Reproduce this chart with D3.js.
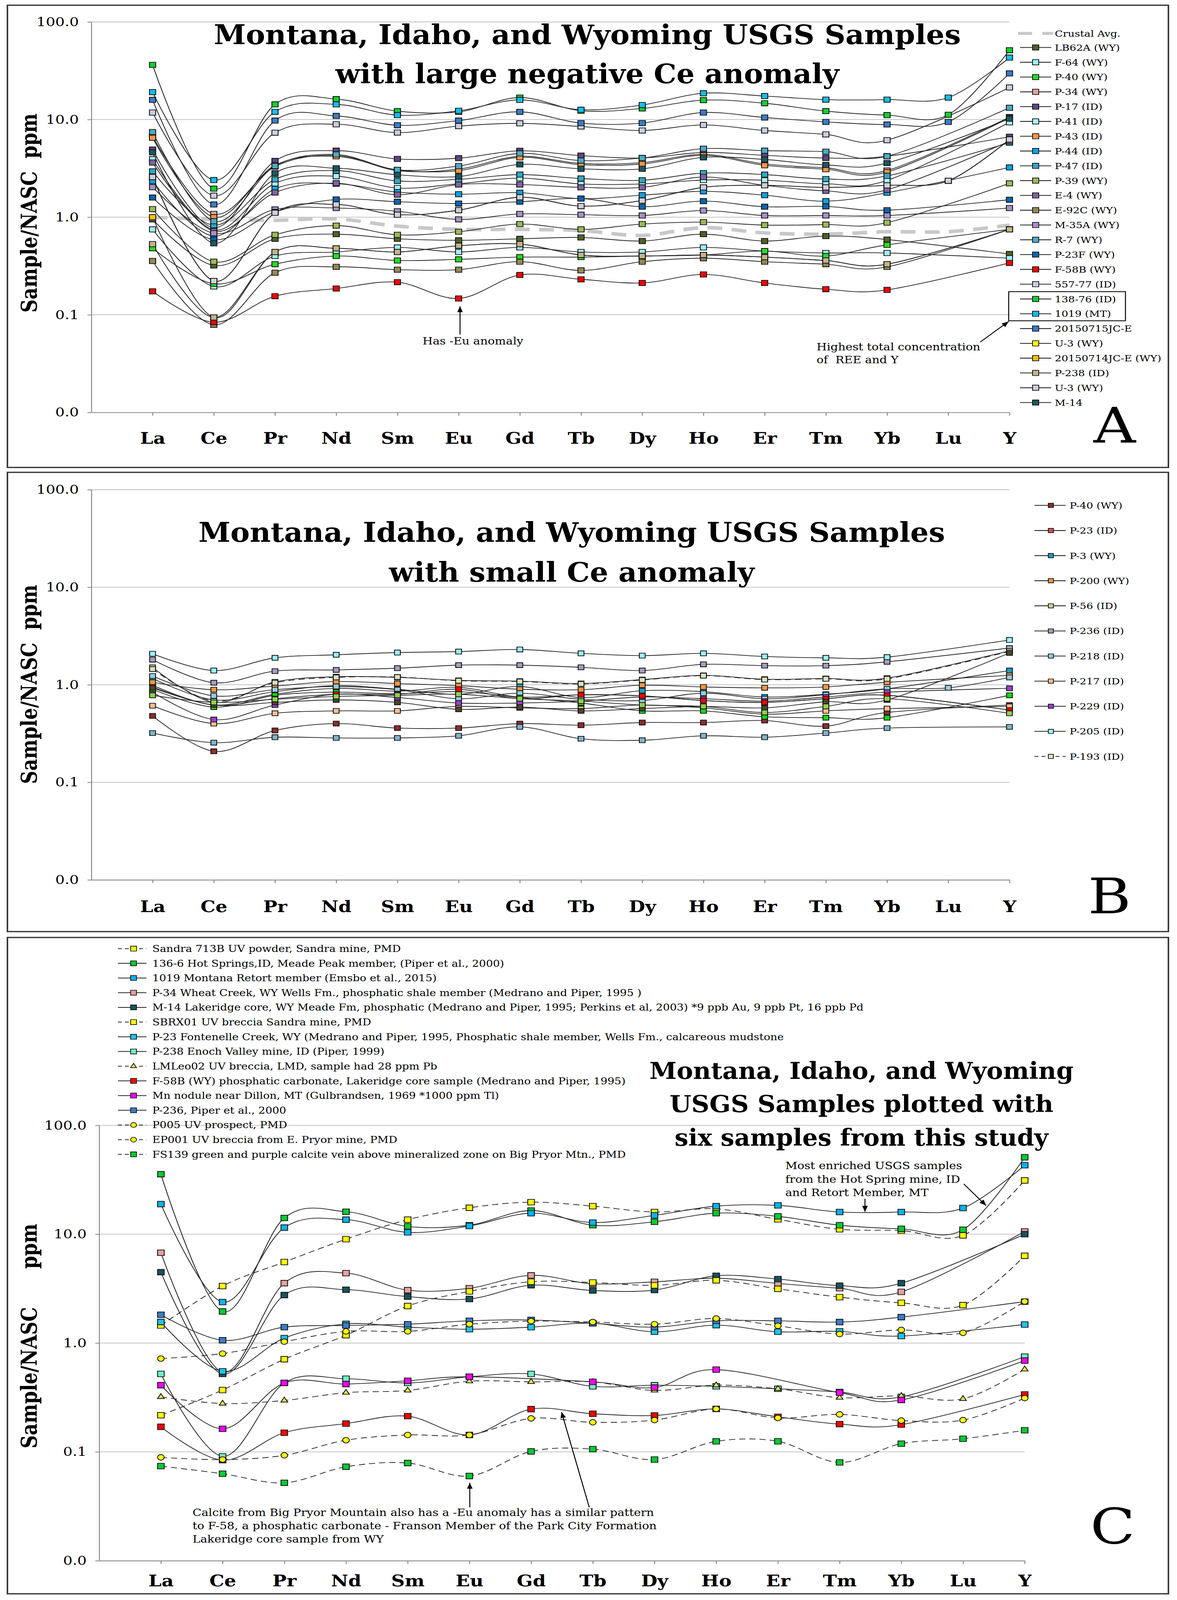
<!DOCTYPE html>
<html>
<head>
<meta charset="utf-8">
<script src="https://cdn.jsdelivr.net/npm/d3@7"></script>
<style>
  html, body { margin: 0; padding: 0; background: #fff; overflow: hidden; }
  svg { display: block; }
  text { font-family: "DejaVu Serif", serif; }
</style>
</head>
<body>
<svg id="fig"></svg>
<script>
const categories = ["La", "Ce", "Pr", "Nd", "Sm", "Eu", "Gd", "Tb", "Dy", "Ho", "Er", "Tm", "Yb", "Lu", "Y"];
const yTickValues = [100, 10, 1, 0.1, 0.01];
const yTickLabels = ["100.0", "10.0", "1.0", "0.1", "0.0"];

// ---- panel A
const crustalAvg = [1.0, 0.95, 0.93, 0.96, 0.81, 0.75, 0.75, 0.73, 0.65, 0.78, 0.69, 0.67, 0.71, 0.71, 0.83];
const aNames = ["LB62A (WY)", "F-64 (WY)", "P-40 (WY)", "P-34 (WY)", "P-17 (ID)", "P-41 (ID)", "P-43 (ID)",
  "P-44 (ID)", "P-47 (ID)", "P-39 (WY)", "E-4 (WY)", "E-92C (WY)", "M-35A (WY)", "R-7 (WY)", "P-23F (WY)",
  "F-58B (WY)", "557-77 (ID)", "138-76 (ID)", "1019 (MT)", "20150715JC-E", "U-3 (WY)", "20150714JC-E (WY)",
  "P-238 (ID)", "U-3 (WY)", "M-14"];
const aValues = [
  [0.95, 0.32, 0.60, 0.67, 0.60, 0.58, 0.60, 0.62, 0.57, 0.67, 0.57, 0.64, 0.59, null, 0.42],
  [0.75, 0.195, 0.40, 0.44, 0.49, 0.44, 0.49, 0.44, 0.44, 0.49, 0.45, 0.43, 0.43, null, 0.38],
  [0.48, 0.208, 0.33, 0.40, 0.36, 0.37, 0.39, 0.39, 0.40, 0.41, 0.45, 0.40, 0.52, null, 0.75],
  [6.72, 1.08, 3.3, 4.3, 3.0, 3.11, 4.2, 3.55, 3.62, 4.4, 3.51, 3.2, 3.01, null, 10.6],
  [4.93, 0.78, 3.77, 4.80, 3.95, 4.02, 4.78, 4.27, 4.04, 4.6, 4.3, 4.04, 4.21, null, 6.66],
  [3.93, 0.74, 2.22, 2.63, 1.99, 2.2, 2.51, 2.19, 2.19, 2.4, 2.39, 2.2, 2.38, null, 9.37],
  [6.5, 1.0, 3.4, 4.2, 3.05, 3.0, 4.1, 3.45, 3.5, 4.3, 3.4, 3.1, 2.9, null, 10.4],
  [2.34, 0.64, 1.95, 2.2, 1.81, 1.72, 1.78, 1.55, 1.68, 1.84, 1.68, 1.46, 1.78, null, 3.23],
  [2.95, 0.83, 2.44, 3.0, 2.35, 2.44, 2.73, 2.49, 2.39, 2.83, 2.73, 2.46, 2.65, null, 5.79],
  [1.21, 0.35, 0.66, 0.82, 0.66, 0.71, 0.85, 0.75, 0.85, 0.89, 0.83, 0.84, 0.88, null, 2.22],
  [3.63, 0.72, 1.79, 2.23, 1.70, 2.16, 2.16, 2.02, 2.02, 2.58, 2.12, 1.86, 1.91, null, 6.0],
  [0.356, 0.079, 0.27, 0.31, 0.29, 0.29, 0.35, 0.285, 0.35, 0.38, 0.35, 0.33, 0.31, null, 0.75],
  [2.03, 0.685, 1.20, 1.24, 1.15, 0.95, 1.08, 1.06, 1.04, 1.17, 1.04, 1.04, 1.04, null, 1.24],
  [7.45, 0.91, 3.34, 4.39, 3.06, 3.34, 4.5, 3.8, 4.04, 5.03, 4.8, 4.69, 4.21, null, 13.2],
  [1.59, 0.59, 1.13, 1.52, 1.44, 1.38, 1.44, 1.55, 1.28, 1.46, 1.28, 1.29, 1.18, null, 1.51],
  [0.174, 0.084, 0.155, 0.186, 0.216, 0.147, 0.256, 0.231, 0.212, 0.259, 0.212, 0.183, 0.18, null, 0.34],
  [11.8, 1.66, 7.33, 8.95, 7.36, 8.57, 9.15, 8.49, 7.73, 8.8, 7.73, 7.05, 6.15, null, 21.3],
  [36.3, 1.96, 14.3, 16.2, 12.2, 12.0, 16.8, 12.3, 13.0, 15.8, 14.7, 12.2, 11.1, 11.2, 51.3],
  [19.1, 2.40, 12.0, 14.3, 11.1, 12.3, 15.9, 12.6, 14.1, 18.6, 17.4, 16.0, 16.0, 16.8, 43.1],
  [15.9, 1.35, 9.76, 10.9, 8.75, 9.76, 12.0, 9.2, 9.2, 11.8, 10.5, 9.46, 8.9, 9.46, 29.7],
  [2.58, 0.222, 1.11, 1.35, 1.06, 1.18, 1.6, 1.30, 1.48, 2.02, 2.12, 2.02, 2.12, 2.36, 6.26],
  [1.0, 0.094, 0.44, 0.48, 0.44, 0.51, 0.53, 0.41, 0.40, 0.41, 0.39, 0.36, 0.33, null, 0.75],
  [0.53, 0.094, 0.44, 0.48, 0.44, 0.51, 0.53, 0.41, 0.40, 0.41, 0.39, 0.36, 0.33, null, 0.75],
  [2.58, 0.222, 1.11, 1.35, 1.06, 1.18, 1.6, 1.30, 1.48, 2.02, 2.12, 2.02, 2.12, 2.36, 6.26],
  [4.62, 0.54, 2.83, 3.17, 2.72, 2.61, 3.47, 3.13, 3.13, 4.1, 3.9, 3.43, 3.59, null, 10.2]
];
const aColors = ["#4f6228", "#9ff3fb", "#22dd22", "#e6a0a0", "#5c4680", "#a8f4fc", "#f79646", "#0aa2e6",
  "#31a8c4", "#9bbb59", "#8064a2", "#948a54", "#a592c8", "#4bacc6", "#0866b0", "#ff0000", "#c8d0e0",
  "#10d030", "#10c0f0", "#3a7cc8", "#ffff00", "#ffc000", "#c4b48c", "#d0d0d8", "#1d5663"];

// ---- panel B (legend only shows the first 11)
const bNames = ["P-40 (WY)", "P-23 (ID)", "P-3 (WY)", "P-200 (WY)", "P-56 (ID)", "P-236 (ID)", "P-218 (ID)",
  "P-217 (ID)", "P-229 (ID)", "P-205 (ID)", "P-193 (ID)"];
const bValues = [
  [0.48, 0.208, 0.34, 0.40, 0.36, 0.36, 0.40, 0.385, 0.41, 0.41, 0.43, 0.377, 0.52, null, 0.62],
  [0.99, 0.62, 0.80, 0.92, 0.86, 0.94, 0.75, 0.79, 0.77, 0.69, 0.66, 0.72, 0.78, null, 0.55],
  [1.16, 0.70, 0.85, 0.98, 0.90, 0.80, 0.96, 0.74, 0.87, 0.85, 0.75, 0.80, 0.91, null, 1.40],
  [1.06, 0.89, 0.97, 1.08, 1.03, 0.98, 0.90, 0.89, 0.99, 0.95, 0.93, 0.95, 1.06, null, 1.25],
  [1.51, 0.66, 1.07, 1.21, 1.19, 1.11, 1.09, 1.03, 1.13, 1.25, 1.14, 1.16, 1.17, null, 2.23],
  [1.81, 1.05, 1.38, 1.42, 1.48, 1.59, 1.59, 1.51, 1.40, 1.62, 1.57, 1.57, 1.72, null, 2.38],
  [1.23, 0.77, 0.89, 0.96, 0.89, 0.72, 0.82, 0.71, 0.69, 0.82, 0.72, 0.79, 0.91, 0.93, 1.19],
  [0.61, 0.40, 0.51, 0.54, 0.54, 0.60, 0.58, 0.57, 0.62, 0.58, 0.50, 0.54, 0.57, null, 0.60],
  [0.84, 0.44, 0.62, 0.80, 0.74, 0.65, 0.65, 0.68, 0.75, 0.72, 0.68, 0.75, 0.84, null, 0.92],
  [2.08, 1.40, 1.89, 2.03, 2.14, 2.19, 2.30, 2.10, 1.99, 2.10, 1.95, 1.89, 1.92, null, 2.88],
  [1.45, 0.68, 1.05, 1.19, 1.20, 1.10, 1.08, 1.02, 1.12, 1.24, 1.13, 1.15, 1.15, null, 2.20]
];
const bExtraValues = [
  [0.90, 0.59, 0.78, 0.84, 0.81, 0.85, 0.74, 0.65, 0.54, 0.54, 0.47, 0.46, 0.46, null, 0.78],
  [0.95, 0.62, 0.72, 0.80, 0.80, 0.90, 0.72, 0.79, 0.77, 0.69, 0.66, 0.72, 0.78, null, 0.55],
  [0.93, 0.62, 0.66, 0.70, 0.66, 0.56, 0.59, 0.54, 0.57, 0.60, 0.58, 0.67, 0.70, null, 2.12],
  [0.78, 0.66, 0.71, 0.76, 0.78, 0.80, 0.72, 0.68, 0.62, 0.60, 0.52, 0.60, 0.72, null, 0.51],
  [0.32, 0.255, 0.29, 0.285, 0.285, 0.30, 0.37, 0.28, 0.27, 0.30, 0.29, 0.32, 0.36, null, 0.37]
];
const bColors = ["#8c2d2d", "#d9534f", "#1e9ec4", "#f79646", "#c3d69b", "#a89cbc", "#93cddd", "#fac090",
  "#9a3fd0", "#99f6ff", "#d7e4bd"];
const bExtraColors = ["#00e000", "#ff0000", "#4a452a", "#92d050", "#7fb4cc"];

// ---- panel C
const cNames = [
  "Sandra 713B UV powder, Sandra mine, PMD",
  "136-6 Hot Springs,ID, Meade Peak member, (Piper et al., 2000)",
  "1019 Montana Retort member (Emsbo et al., 2015)",
  "P-34 Wheat Creek, WY  Wells Fm., phosphatic shale member (Medrano and Piper, 1995 )",
  "M-14 Lakeridge core, WY Meade Fm, phosphatic  (Medrano and Piper, 1995; Perkins et al, 2003) *9 ppb Au, 9 ppb Pt, 16 ppb Pd",
  "SBRX01 UV breccia Sandra mine, PMD",
  "P-23 Fontenelle Creek, WY (Medrano and Piper, 1995, Phosphatic shale member, Wells Fm., calcareous mudstone",
  "P-238 Enoch Valley mine, ID (Piper, 1999)",
  "LMLeo02 UV breccia, LMD, sample had 28 ppm Pb",
  "F-58B (WY) phosphatic carbonate, Lakeridge core sample (Medrano and Piper, 1995)",
  "Mn nodule near Dillon, MT (Gulbrandsen, 1969 *1000 ppm Tl)",
  "P-236, Piper et al., 2000",
  "P005 UV prospect, PMD",
  "EP001 UV breccia from E. Pryor mine, PMD",
  "FS139 green and purple calcite vein above mineralized zone on Big Pryor Mtn., PMD"
];
const cValues = [
  [1.45, 3.34, 5.55, 9.0, 13.6, 17.5, 19.7, 18.1, 16.0, 17.1, 13.7, 11.1, 10.8, 9.75, 31.2],
  [35.6, 1.95, 14.1, 16.1, 11.8, 12.1, 16.5, 12.1, 13.0, 15.6, 14.6, 12.1, 11.2, 11.0, 50.9],
  [18.9, 2.38, 11.5, 13.6, 10.4, 11.9, 15.6, 12.8, 14.9, 18.1, 18.4, 16.0, 16.0, 17.4, 43.0],
  [6.76, 0.54, 3.55, 4.39, 3.06, 3.19, 4.19, 3.5, 3.65, 3.94, 3.53, 3.19, 2.95, null, 10.6],
  [4.48, 0.52, 2.76, 3.09, 2.67, 2.54, 3.40, 3.04, 3.07, 4.15, 3.87, 3.37, 3.55, null, 10.0],
  [0.217, 0.37, 0.71, 1.18, 2.19, 2.98, 3.66, 3.6, 3.39, 3.77, 3.15, 2.64, 2.34, 2.23, 6.33],
  [1.56, 0.55, 1.11, 1.50, 1.40, 1.34, 1.40, 1.52, 1.27, 1.46, 1.27, 1.28, 1.16, null, 1.48],
  [0.52, 0.091, 0.43, 0.47, 0.43, 0.49, 0.52, 0.40, 0.41, 0.40, 0.38, 0.355, 0.32, null, 0.75],
  [0.32, 0.278, 0.297, 0.35, 0.367, 0.446, 0.44, 0.44, 0.367, 0.41, 0.38, 0.315, 0.327, 0.307, 0.574],
  [0.17, 0.084, 0.150, 0.182, 0.213, 0.143, 0.247, 0.224, 0.216, 0.248, 0.21, 0.18, 0.178, null, 0.337],
  [0.41, 0.163, 0.43, 0.42, 0.45, 0.49, null, 0.44, 0.39, 0.57, null, 0.35, 0.30, null, 0.69],
  [1.82, 1.06, 1.40, 1.45, 1.49, 1.60, 1.63, 1.52, 1.40, 1.60, 1.60, 1.56, 1.73, null, 2.40],
  [0.72, 0.80, 1.03, 1.28, 1.28, 1.49, 1.59, 1.56, 1.49, 1.68, 1.44, 1.21, 1.32, 1.24, 2.41],
  [0.089, 0.085, 0.093, 0.128, 0.143, 0.143, 0.203, 0.187, 0.196, 0.248, 0.205, 0.221, 0.194, 0.196, 0.312],
  [0.074, 0.063, 0.052, 0.073, 0.079, 0.060, 0.101, 0.106, 0.085, 0.125, 0.125, 0.080, 0.119, 0.132, 0.158]
];
const cColors = ["#ffff00", "#00cc33", "#00b4f0", "#e6a0a0", "#17535c", "#ffff00", "#1cc4f0", "#70f0c8",
  "#e8e84a", "#ff0000", "#ff00ff", "#3c7cc8", "#ffff00", "#ffff00", "#00cc33"];
const cShapes = ["square", "square", "square", "square", "square", "square", "square", "square",
  "triangle", "square", "square", "square", "circle", "circle", "square"];
const cDashed = [true, false, false, false, false, true, false, false, true, false, false, false, true, true, true];

// the figure is laid out on a 3014 x 4888 sheet; the viewport may be shorter, so stretch the sheet into it
const W = 3014, H = 4888;
const svg = d3.select("#fig")
  .attr("width", window.innerWidth || W)
  .attr("height", Math.min(window.innerHeight || H, H))
  .attr("viewBox", `0 0 ${W} ${H}`)
  .attr("preserveAspectRatio", "none");
svg.append("rect").attr("width", W).attr("height", H).attr("fill", "#fff");

svg.append("defs").append("marker")
  .attr("id", "arrow").attr("viewBox", "0 0 10 10").attr("refX", 10).attr("refY", 5)
  .attr("markerWidth", 18).attr("markerHeight", 18).attr("markerUnits", "userSpaceOnUse")
  .attr("orient", "auto")
  .append("path").attr("d", "M0,1 L10,5 L0,9 z").attr("fill", "#000");

const LINE_COLOR = "#262626";
const DASH = "16,10";

function symbolPath(shape, size) {
  if (shape === "circle") return d3.symbol(d3.symbolCircle, Math.PI * (size / 2) ** 2)();
  if (shape === "triangle") return d3.symbol(d3.symbolTriangle, size * size * 0.45)();
  return d3.symbol(d3.symbolSquare, size * size)();
}

function arrow(g, x1, y1, x2, y2) {
  g.append("line").attr("x1", x1).attr("y1", y1).attr("x2", x2).attr("y2", y2)
    .attr("stroke", "#000").attr("stroke-width", 2.5).attr("marker-end", "url(#arrow)");
}

function drawPanel(p) {
  const g = svg.append("g");
  const x = d3.scaleLinear().domain([0, categories.length]).range([p.left, p.right]);
  const y = d3.scaleLog().domain([0.01, 100]).range([p.bottom, p.top]);

  g.append("rect").attr("x", 19).attr("y", p.frameTop).attr("width", 2973).attr("height", p.frameBottom - p.frameTop)
    .attr("fill", "none").attr("stroke", "#3a3a3a").attr("stroke-width", 4);

  g.selectAll(".grid").data([0.1, 1, 10, 100]).join("line")
    .attr("x1", p.left).attr("x2", p.right)
    .attr("y1", d => y(d)).attr("y2", d => y(d))
    .attr("stroke", "#c4c4c4").attr("stroke-width", 2.5);

  const ya = g.append("g").attr("transform", `translate(${p.left},0)`)
    .call(d3.axisLeft(y).tickValues(yTickValues).tickFormat((d, i) => yTickLabels[i])
      .tickSize(10).tickSizeOuter(0).tickPadding(22));
  ya.attr("font-family", "DejaVu Serif").attr("font-size", 38);
  ya.selectAll("path, line").attr("stroke", "#8a8a8a").attr("stroke-width", 2.5);

  const xa = g.append("g").attr("transform", `translate(0,${p.bottom})`)
    .call(d3.axisBottom(x).tickValues(d3.range(1, categories.length + 1)).tickFormat(i => categories[i - 1])
      .tickSize(10).tickSizeOuter(0).tickPadding(p.labelPad));
  xa.attr("font-family", "DejaVu Serif").attr("font-size", 48).attr("font-weight", "bold");
  xa.selectAll("path, line").attr("stroke", "#8a8a8a").attr("stroke-width", 2.5);

  g.append("text").attr("transform", `translate(94,${p.yTitleStart}) rotate(-90)`)
    .attr("font-size", 56).attr("font-weight", "bold").style("white-space", "pre")
    .text(p.yTitle);

  // titles: taller glyphs squeezed to the width seen in the figure
  p.titleLines.forEach((t, i) => {
    g.append("text").attr("x", p.titleX).attr("y", p.titleY[i]).attr("text-anchor", "middle")
      .attr("font-size", p.titleSize).attr("font-weight", "bold")
      .attr("textLength", p.titleWidths[i]).attr("lengthAdjust", "spacingAndGlyphs").text(t);
  });

  g.append("text").attr("x", p.letterX).attr("y", p.letterY)
    .attr("font-family", "Liberation Serif").attr("font-size", 150).text(p.letter);

  const line = d3.line().x(d => x(d.i + 1)).y(d => y(d.v)).curve(d3.curveCardinal.tension(0));
  const pts = vals => vals.map((v, i) => ({ i, v })).filter(d => d.v != null);

  if (p.crustal) {
    g.append("path").attr("d", line(pts(p.crustal))).attr("fill", "none")
      .attr("stroke", "#c8c8c8").attr("stroke-width", 11).attr("stroke-dasharray", "38,24");
  }
  p.series.forEach(s => {
    g.append("path").attr("d", line(pts(s.values))).attr("fill", "none")
      .attr("stroke", LINE_COLOR).attr("stroke-width", 2.2)
      .attr("stroke-dasharray", s.dashed ? DASH : null);
  });
  p.series.forEach(s => {
    g.append("g").selectAll("path").data(pts(s.values)).join("path")
      .attr("transform", d => `translate(${x(d.i + 1)},${y(d.v)})`)
      .attr("d", symbolPath(s.shape || "square", p.markerSize))
      .attr("fill", s.color).attr("stroke", "#111").attr("stroke-width", 2.2);
  });
  return g;
}

function legendRow(g, lx1, lx2, mx, tx, yy, s, size, fontSize) {
  g.append("line").attr("x1", lx1).attr("x2", lx2).attr("y1", yy).attr("y2", yy)
    .attr("stroke", LINE_COLOR).attr("stroke-width", 2.5)
    .attr("stroke-dasharray", s.dashed ? "10,8" : null);
  g.append("path").attr("transform", `translate(${mx},${yy})`)
    .attr("d", symbolPath(s.shape || "square", size))
    .attr("fill", s.color).attr("stroke", "#111").attr("stroke-width", 2);
  g.append("text").attr("x", tx).attr("y", yy + fontSize * 0.36).attr("font-size", fontSize).text(s.name);
}

// ---------- A
const seriesA = aNames.map((name, i) => ({ name, values: aValues[i], color: aColors[i] }));
const gA = drawPanel({
  frameTop: 16, frameBottom: 1428, left: 234, right: 2585, top: 67, bottom: 1260, labelPad: 51,
  yTitle: "Sample/NASC  ppm", yTitleStart: 955,
  titleLines: ["Montana, Idaho, and Wyoming USGS Samples", "with large negative Ce anomaly"],
  titleX: 1504, titleY: [135, 254], titleSize: 82, titleWidths: [1913, 1290],
  letter: "A", letterX: 2800, letterY: 1352,
  crustal: crustalAvg, series: seriesA, markerSize: 16
});
gA.append("line").attr("x1", 2607).attr("x2", 2697).attr("y1", 102).attr("y2", 102)
  .attr("stroke", "#c8c8c8").attr("stroke-width", 9).attr("stroke-dasharray", "36,26");
gA.append("text").attr("x", 2701).attr("y", 112).attr("font-size", 27).text("Crustal Avg.");
seriesA.forEach((s, i) => legendRow(gA, 2612, 2692, 2652, 2701, 145 + 45.2 * i, s, 16, 27));
gA.append("rect").attr("x", 2583).attr("y", 891).attr("width", 299).attr("height", 89)
  .attr("fill", "none").attr("stroke", "#000").attr("stroke-width", 2.5);
gA.append("text").attr("x", 1211).attr("y", 1052).attr("text-anchor", "middle").attr("font-size", 30)
  .text("Has -Eu anomaly");
arrow(gA, 1178, 1022, 1178, 936);
gA.append("text").attr("x", 2091).attr("y", 1070).attr("font-size", 30).text("Highest total concentration");
gA.append("text").attr("x", 2091).attr("y", 1110).attr("font-size", 30).style("white-space", "pre").text("of  REE and Y");
arrow(gA, 2510, 1045, 2583, 982);

// ---------- B
const seriesB = bNames.map((name, i) => ({ name, values: bValues[i], color: bColors[i], dashed: i === 10 }))
  .concat(bExtraValues.map((values, i) => ({ name: "", values, color: bExtraColors[i] })));
const gB = drawPanel({
  frameTop: 1443, frameBottom: 2846, left: 234, right: 2585, top: 1496, bottom: 2688, labelPad: 54,
  yTitle: "Sample/NASC  ppm", yTitleStart: 2395,
  titleLines: ["Montana, Idaho, and Wyoming USGS Samples", "with small Ce anomaly"],
  titleX: 1464, titleY: [1655, 1777], titleSize: 82, titleWidths: [1912, 936],
  letter: "B", letterX: 2786, letterY: 2790,
  series: seriesB, markerSize: 15
});
seriesB.slice(0, bNames.length).forEach((s, i) => legendRow(gB, 2649, 2729, 2691, 2739, 1544 + 76.7 * i, s, 13, 27));

// ---------- C
const seriesC = cNames.map((name, i) => ({
  name, values: cValues[i], color: cColors[i], shape: cShapes[i], dashed: cDashed[i]
}));
const gC = drawPanel({
  frameTop: 2864, frameBottom: 4869, left: 254, right: 2624, top: 3438, bottom: 4768, labelPad: 34,
  yTitle: "Sample/NASC      ppm", yTitleStart: 4425,
  titleLines: ["Montana, Idaho, and Wyoming", "USGS Samples plotted with", "six samples from this study"],
  titleX: 2206, titleY: [3296, 3398, 3500], titleSize: 72, titleWidths: [1086, 983, 957],
  letter: "C", letterX: 2792, letterY: 4715,
  series: seriesC, markerSize: 17
});
seriesC.forEach((s, i) => legendRow(gC, 302, 375, 342, 390, 2898 + 44.9 * i, s, 15, 28));
["Most enriched USGS samples", "from the Hot Spring mine, ID", "and Retort Member, MT"].forEach((t, i) => {
  gC.append("text").attr("x", 2011).attr("y", 3572 + 41 * i).attr("font-size", 30).text(t);
});
arrow(gC, 2215, 3662, 2215, 3702);
arrow(gC, 2468, 3617, 2525, 3683);
["Calcite from Big Pryor Mountain also has a -Eu anomaly has a similar pattern",
  "to F-58, a phosphatic carbonate - Franson Member of the Park City Formation",
  "Lakeridge core sample from WY"].forEach((t, i) => {
  gC.append("text").attr("x", 493).attr("y", 4632 + 40.5 * i).attr("font-size", 30).text(t);
});
arrow(gC, 1203, 4605, 1203, 4530);
arrow(gC, 1509, 4605, 1438, 4314);
</script>
</body>
</html>
